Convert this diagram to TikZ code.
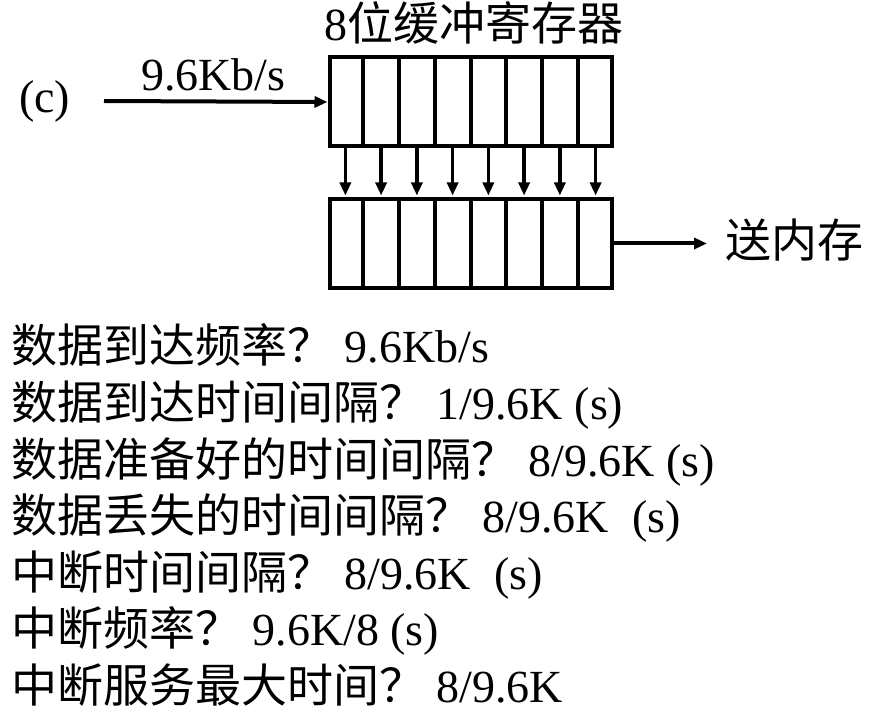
\documentclass[tikz,border=0pt]{standalone}
\usepackage{fontspec}
\setmainfont{Liberation Serif}
\newfontfamily\cjk{Noto Sans CJK SC}
\usetikzlibrary{arrows.meta,calc}
\tikzset{
  reg/.style={draw, line width=4pt, minimum width=282pt, minimum height=89pt, inner sep=0pt},
  divider/.style={line width=4pt},
  arr/.style={line width=4pt, -{Triangle[length=13pt,width=11pt]}},
  varr/.style={line width=3.5pt, -{Triangle[length=13pt,width=11pt]}},
  txt/.style={inner sep=0pt, anchor=base west, font=\fontsize{46}{56}\selectfont},
  ctxt/.style={inner sep=0pt, anchor=base, font=\fontsize{46}{56}\selectfont},
}
\begin{document}
\begin{tikzpicture}[x=1pt,y=-1pt]
\useasboundingbox[fill=white] (0,0) rectangle (871,719);
% registers
\node[reg] (top) at (470.5,102) {};
\node[reg] (bot) at (470.5,243.5) {};
\foreach \i in {1,...,7}{
  \draw[divider] ($(top.north west)!\i/8!(top.north east)$) -- ($(top.south west)!\i/8!(top.south east)$);
  \draw[divider] ($(bot.north west)!\i/8!(bot.north east)$) -- ($(bot.south west)!\i/8!(bot.south east)$);
}
\foreach \i in {1,...,8}{
  \draw[varr, shorten >=1.5pt] ($(top.south west)!{(\i-0.5)/8}!(top.south east)$) -- ($(bot.north west)!{(\i-0.5)/8}!(bot.north east)$);
}
% labels
\node[ctxt] (title) at (474,41) {8{\cjk 位缓冲寄存器}};
\node[txt] (c) at (19,113) {(c)};
\node[txt] (rate) at (141,91) {9.6Kb/s};
\coordinate (in) at (104,101);
\draw[arr] (in) -- (top.west);
\coordinate (out) at (707,243.5);
\draw[arr] (bot.east) -- (out);
\node[txt] (mem) at (725,258) {\cjk 送内存};
% questions
\node[txt] (q1) at (11,363)   {{\cjk 数据到达频率？} 9.6Kb/s};
\node[txt] (q2) at (11,419.5) {{\cjk 数据到达时间间隔？} 1/9.6K (s)};
\node[txt] (q3) at (11,476)   {{\cjk 数据准备好的时间间隔？} 8/9.6K (s)};
\node[txt] (q4) at (11,532.5) {{\cjk 数据丢失的时间间隔？} 8/9.6K\ \ (s)};
\node[txt] (q5) at (11,589)   {{\cjk 中断时间间隔？} 8/9.6K\ \ (s)};
\node[txt] (q6) at (11,645.5) {{\cjk 中断频率？} 9.6K/8 (s)};
\node[txt] (q7) at (11,702)   {{\cjk 中断服务最大时间？} 8/9.6K};
\end{tikzpicture}
\end{document}
